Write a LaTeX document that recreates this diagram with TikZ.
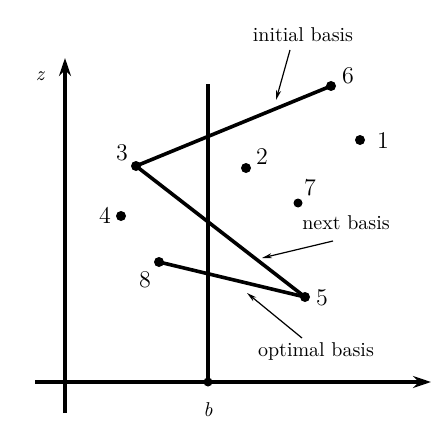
\documentclass[tikz,border=0pt]{standalone}
\usetikzlibrary{arrows.meta}
\begin{document}
\begin{tikzpicture}[x=0.5pt,y=-0.5pt,
  axis/.style={line width=1.6pt},
  seg/.style={line width=1.8pt},
  pt/.style={circle,fill=black,inner sep=0pt,minimum size=5pt},
  num/.style={font=\large},
  lbl/.style={font=\normalsize},
  note/.style={line width=0.6pt,-{Stealth[length=5pt,width=2.5pt]}}]
\useasboundingbox (0,0) rectangle (431,433);
% axes
\coordinate (zb) at (65,413);
\coordinate (zt) at (65,58);
\coordinate (xl) at (35,382);
\coordinate (xr) at (431,382);
\draw[axis,-{Stealth[length=9pt,width=6pt]}] (zb) -- (zt);
\draw[axis,-{Stealth[length=9pt,width=6pt]}] (xl) -- (xr);
\node[font=\itshape] (zl) at (40,76) {z};
% b line
\node[pt,minimum size=4.5pt] (bp) at (208,382) {};
\coordinate (bt) at (208,84);
\draw[axis] (bp.center) -- (bt);
\node[font=\itshape] (bl) at (208,410) {b};
% points
\node[pt] (p1) at (360,140) {};
\node[pt] (p2) at (246,168) {};
\node[pt] (p3) at (136,166) {};
\node[pt] (p4) at (121,216) {};
\node[pt] (p5) at (305,297) {};
\node[pt] (p6) at (331,86) {};
\node[pt,minimum size=4.5pt] (p7) at (298,203) {};
\node[pt] (p8) at (159,262) {};
\node[num] (l1) at (383,141) {1};
\node[num] (l2) at (262,157) {2};
\node[num] (l3) at (122,153) {3};
\node[num] (l4) at (105,215) {4};
\node[num] (l5) at (322,298) {5};
\node[num] (l6) at (348,76) {6};
\node[num] (l7) at (310,188) {7};
\node[num] (l8) at (145,280) {8};
% segments
\draw[seg] (p3.center) -- (p6.center);
\draw[seg] (p3.center) -- (p5.center);
\draw[seg] (p8.center) -- (p5.center);
% annotations
\node[lbl] (ib) at (303,35) {initial basis};
\coordinate (ibe) at (276,100);
\draw[note] (290,50) -- (ibe);
\node[lbl] (nb) at (346,223) {next basis};
\coordinate (nbs) at (333,241);
\coordinate (nbe) at (262,258);
\draw[note] (nbs) -- (nbe);
\node[lbl] (ob) at (316,351) {optimal basis};
\coordinate (obs) at (302,338);
\coordinate (obe) at (247,293);
\draw[note] (obs) -- (obe);
\end{tikzpicture}
\end{document}
